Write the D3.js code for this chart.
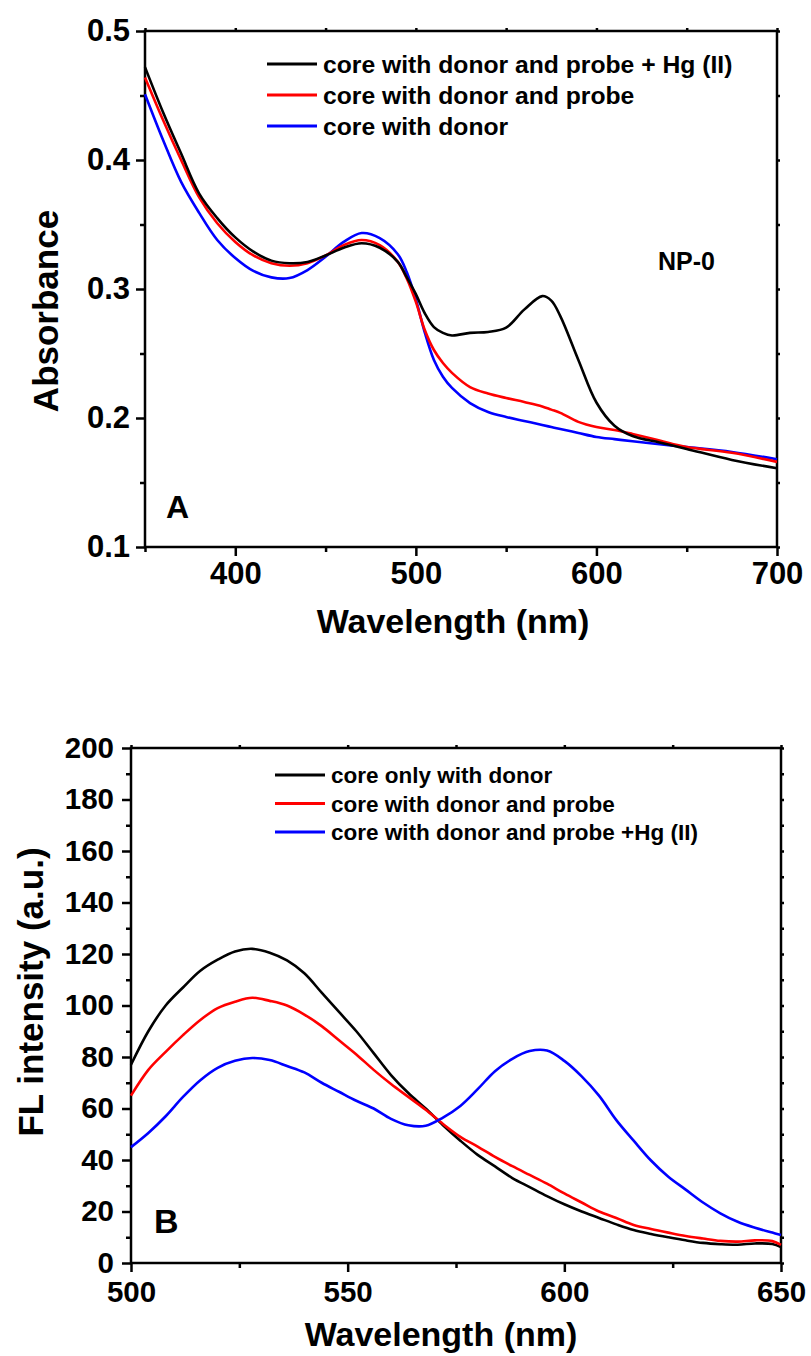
<!DOCTYPE html>
<html>
<head>
<meta charset="utf-8">
<script src="https://d3js.org/d3.v7.min.js"></script>
<style>
  body { margin: 0; background: #fff; }
  text { font-family: "Liberation Sans", Arial, sans-serif; font-weight: bold; }
</style>
</head>
<body>
<svg width="811" height="1356"></svg>
<script>
// ---------- panel A : absorbance ----------
var wlA = [350, 360, 370, 380, 390, 400, 410, 420, 430, 440, 450, 460, 470, 480, 490, 495, 500, 505, 510, 515,
  520, 530, 540, 550, 560, 570, 575, 580, 590, 600, 610, 620, 635, 650, 675, 700]
var absHg = [.472, .437, .405, .374, .355, .340, .329, .322, .320, .321, .326, .332, .3355, .332, .321, .309, .296, .281, .2705, .266,
  .264, .266, .2667, .270, .284, .2945, .291, .279, .245, .212, .194, .186, .181, .176, .1675, .161]
var absProbe = [.464, .431, .400, .371, .351, .3365, .326, .320, .318, .320, .326, .334, .338, .334, .321, .308, .290, .268, .2527, .2426,
  .235, .224, .219, .2155, .2124, .209, .2065, .204, .197, .193, .1907, .1876, .1825, .1775, .173, .166]
var absDonor = [.451, .4155, .383, .359, .338, .324, .314, .309, .3085, .3147, .325, .3365, .3434, .3395, .327, .313, .292, .266, .245, .232,
  .2233, .2116, .2047, .2008, .1977, .1946, .193, .1915, .1884, .1853, .1836, .182, .1797, .1775, .1737, .168]
var legendA = ['core with donor and probe + Hg (II)', 'core with donor and probe', 'core with donor']
var xTicksA = [400, 500, 600, 700]
var yTicksA = [0.1, 0.2, 0.3, 0.4, 0.5]

// ---------- panel B : fluorescence ----------
var wlB = [500, 504, 508, 512, 516, 520, 524, 528, 532, 536, 540, 544, 548, 552, 556, 560, 564, 568, 572, 576,
  580, 584, 588, 592, 596, 600, 604, 608, 612, 616, 620, 624, 628, 632, 636, 640, 644, 648, 650]
var flDonor = [77, 90, 100, 107, 113.5, 117.8, 121, 122, 120.5, 117.5, 112.5, 105, 97.5, 90, 81.5, 73, 66, 60, 53.5, 47.5,
  42, 37.5, 33, 29.5, 26, 22.8, 20, 17.5, 15, 12.8, 11.3, 10, 8.8, 7.8, 7.3, 7.1, 7.6, 7.4, 6.2]
var flProbe = [65, 75, 82, 88.5, 94.4, 99, 101.5, 103, 101.8, 100, 96.5, 92, 86.5, 81, 75, 69.5, 64.5, 59.5, 54, 49,
  45.2, 41.2, 37.6, 34.2, 30.8, 27, 23.5, 20, 17.5, 14.8, 13.2, 11.8, 10.5, 9.5, 8.6, 8.3, 8.8, 8.5, 7]
var flHg = [45, 50.5, 57, 64.5, 71, 75.8, 78.5, 79.6, 78.8, 76.5, 74, 70, 66.5, 63, 60, 56, 53.5, 53.3, 56.5, 61,
  67.5, 74.5, 79.3, 82.3, 82.5, 78.5, 72.5, 65, 55.5, 47.5, 39.8, 33.5, 28.5, 23.5, 19.3, 16, 13.7, 11.8, 10.9]
var legendB = ['core only with donor', 'core with donor and probe', 'core with donor and probe +Hg (II)']
var xTicksB = [500, 550, 600, 650]
var yTicksB = [0, 20, 40, 60, 80, 100, 120, 140, 160, 180, 200]

var svg = d3.select('svg')

function panel (cfg) {
  var x = d3.scaleLinear().domain(cfg.xDomain).range([cfg.left, cfg.right])
  var y = d3.scaleLinear().domain(cfg.yDomain).range([cfg.bottom, cfg.top])
  var g = svg.append('g')

  // small ticks on top / right frame
  g.append('g').attr('transform', 'translate(0,' + cfg.top + ')')
    .call(d3.axisTop(x).tickValues(cfg.xMinor.concat(cfg.xTicks)).tickSize(3).tickFormat(''))
  g.append('g').attr('transform', 'translate(' + cfg.right + ',0)')
    .call(d3.axisRight(y).tickValues(cfg.yMinor.concat(cfg.yTicks)).tickSize(3).tickFormat(''))

  // minor ticks
  g.append('g').attr('transform', 'translate(0,' + cfg.bottom + ')')
    .call(d3.axisBottom(x).tickValues(cfg.xMinor).tickSize(5).tickFormat(''))
  g.append('g').attr('transform', 'translate(' + cfg.left + ',0)')
    .call(d3.axisLeft(y).tickValues(cfg.yMinor).tickSize(5).tickFormat(''))

  // major ticks
  g.append('g').attr('transform', 'translate(0,' + cfg.bottom + ')')
    .call(d3.axisBottom(x).tickValues(cfg.xTicks).tickSize(9).tickPadding(cfg.xPad).tickFormat(d3.format('d')))
  g.append('g').attr('transform', 'translate(' + cfg.left + ',0)')
    .call(d3.axisLeft(y).tickValues(cfg.yTicks).tickSize(9).tickPadding(cfg.yPad).tickFormat(cfg.yFormat))

  g.selectAll('.domain').remove()
  g.selectAll('.tick line').attr('stroke', '#000').attr('stroke-width', 2.5)
  g.selectAll('.tick text').attr('fill', '#000').style('font-size', cfg.tickFont + 'px')
    .style('font-family', '"Liberation Sans", Arial, sans-serif').style('font-weight', 'bold')

  // frame
  g.append('rect')
    .attr('x', cfg.left).attr('y', cfg.top)
    .attr('width', cfg.right - cfg.left).attr('height', cfg.bottom - cfg.top)
    .attr('fill', 'none').attr('stroke', '#000').attr('stroke-width', 2.5)

  var line = d3.line()
    .x((d) => x(d[0]))
    .y((d) => y(d[1]))
    .curve(d3.curveCatmullRom.alpha(0.5))

  cfg.series.forEach((s) => {
    g.append('path')
      .datum(cfg.wl.map((w, i) => [w, s.values[i]]))
      .attr('d', line)
      .attr('fill', 'none')
      .attr('stroke', s.color)
      .attr('stroke-width', 2.6)
      .attr('stroke-linejoin', 'round')
  })

  // legend
  cfg.legend.forEach((l, i) => {
    var ly = cfg.legY + i * cfg.legStep
    g.append('line')
      .attr('x1', cfg.legX).attr('x2', cfg.legX + 50)
      .attr('y1', ly).attr('y2', ly)
      .attr('stroke', l.color).attr('stroke-width', 3)
    g.append('text')
      .attr('x', cfg.legX + 56).attr('y', ly + cfg.legFont * 0.36)
      .style('font-size', cfg.legFont + 'px')
      .text(l.label)
  })

  // axis titles
  g.append('text')
    .attr('x', cfg.xTitleX).attr('y', cfg.xTitleY)
    .attr('text-anchor', 'middle')
    .style('font-size', '34px')
    .text('Wavelength (nm)')
  g.append('text')
    .attr('transform', 'translate(' + cfg.yTitleX + ',' + cfg.yTitleY + ') rotate(-90)')
    .attr('text-anchor', 'middle')
    .style('font-size', '35px')
    .text(cfg.yTitle)

  return g
}

var gA = panel({
  left: 145, right: 777, top: 31, bottom: 547,
  xDomain: [350, 700], yDomain: [0.1, 0.5],
  xTicks: xTicksA, xMinor: [350, 450, 550, 650],
  yTicks: yTicksA, yMinor: [0.15, 0.25, 0.35, 0.45],
  yFormat: d3.format('.1f'), xPad: 6, yPad: 6, tickFont: 31,
  wl: wlA,
  series: [
    { values: absDonor, color: '#0000ff' },
    { values: absProbe, color: '#ff0000' },
    { values: absHg, color: '#000000' }
  ],
  legend: [
    { label: legendA[0], color: '#000000' },
    { label: legendA[1], color: '#ff0000' },
    { label: legendA[2], color: '#0000ff' }
  ],
  legX: 267, legY: 64, legStep: 31, legFont: 24.7,
  xTitleX: 453, xTitleY: 633,
  yTitleX: 58, yTitleY: 311, yTitle: 'Absorbance'
})
gA.append('text').attr('x', 658).attr('y', 270).style('font-size', '25px').text('NP-0')
gA.append('text').attr('x', 166).attr('y', 518).style('font-size', '32px').text('A')

var gB = panel({
  left: 131, right: 781, top: 748, bottom: 1263,
  xDomain: [500, 650], yDomain: [0, 200],
  xTicks: xTicksB, xMinor: [525, 575, 625],
  yTicks: yTicksB, yMinor: d3.range(10, 200, 20),
  yFormat: d3.format('d'), xPad: 9, yPad: 8, tickFont: 29.5,
  wl: wlB,
  series: [
    { values: flDonor, color: '#000000' },
    { values: flProbe, color: '#ff0000' },
    { values: flHg, color: '#0000ff' }
  ],
  legend: [
    { label: legendB[0], color: '#000000' },
    { label: legendB[1], color: '#ff0000' },
    { label: legendB[2], color: '#0000ff' }
  ],
  legX: 275, legY: 775, legStep: 28.5, legFont: 22.5,
  xTitleX: 441, xTitleY: 1346,
  yTitleX: 43, yTitleY: 992, yTitle: 'FL intensity (a.u.)'
})
gB.append('text').attr('x', 154).attr('y', 1233).style('font-size', '34px').text('B')
</script>
</body>
</html>
